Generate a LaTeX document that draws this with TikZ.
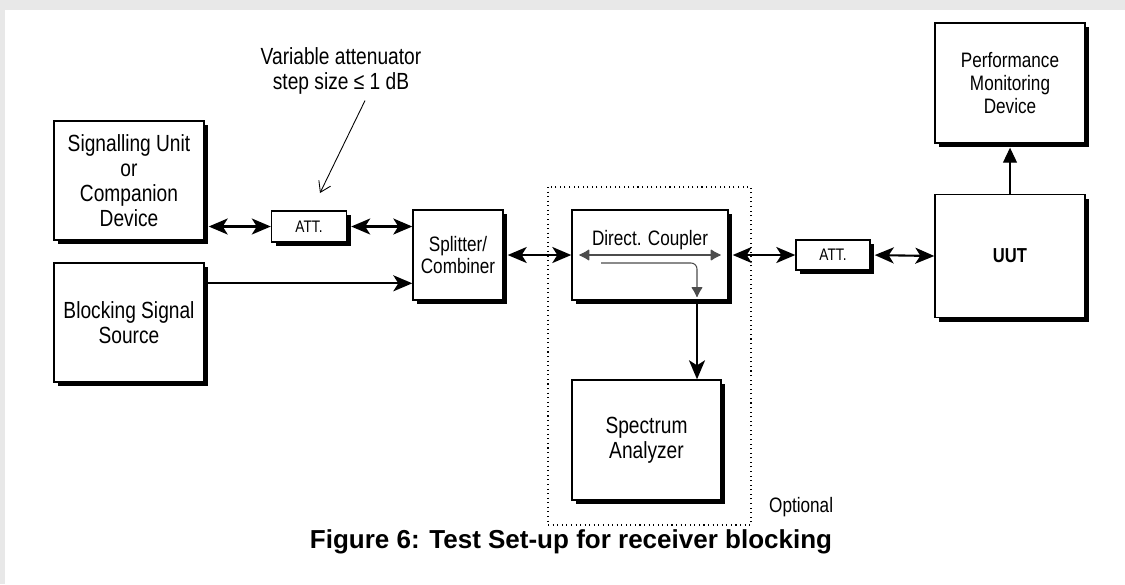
\documentclass[tikz,border=0pt]{standalone}
\usepackage{fontspec}
\setmainfont[FakeStretch=0.82]{Liberation Sans}
\newfontfamily\captionfont{Liberation Sans}
\usetikzlibrary{arrows.meta, shadows}

\begin{document}
\begin{tikzpicture}[
  maintip/.tip={Stealth[length=0.38cm, width=0.32cm, inset=0.1cm]},
  cpltip/.tip={Latex[length=0.22cm, width=0.24cm, round]},
  devbox/.style={draw, line width=0.8pt, fill=white, align=center, minimum width=3cm, minimum height=2.38cm,
    font=\fontsize{13.3}{14.2}\selectfont,
    drop shadow={shadow xshift=0.08cm, shadow yshift=-0.08cm, fill=black, opacity=1}},
  attbox/.style={devbox, minimum width=1.5cm, minimum height=0.62cm, font=\fontsize{9.5}{11}\selectfont},
  smalltxt/.style={font=\fontsize{11.9}{13}\selectfont},
  wire/.style={line width=1.2pt},
  dbl/.style={wire, maintip-maintip, shorten <=0.08cm},
  inner/.style={line width=0.6pt, draw=black!70},
]
  % Page background
  \useasboundingbox (0,0) rectangle (22.5,-11.68);
  \fill[black!9] (0,0) rectangle (22.5,-11.68);
  \fill[white] (0.1,-0.2) rectangle (22.5,-11.68);

  % Optional part
  \draw[dotted, line width=0.6pt] (10.96,-3.74) rectangle (15.02,-10.5);
  \node[smalltxt, anchor=west] (opt) at (15.26,-10.14) {Optional};

  % Sources
  \node[devbox] (sig) at (2.58,-3.61) {Signalling Unit\\or\\Companion\\Device};
  \node[devbox] (blk) at (2.58,-6.45) {Blocking Signal\\Source};
  \node[attbox] (att1) at (6.18,-4.53) {ATT.};
  \node[devbox, smalltxt, minimum width=1.8cm, minimum height=1.8cm] (spl) at (9.16,-5.1) {Splitter/\\Combiner};

  % Coupler and analyzer
  \node[devbox, minimum width=3.12cm, minimum height=1.8cm] (cpl) at (13.0,-5.1) {};
  \node[smalltxt, anchor=base] (cpltxt) at (13.0,-4.9) {Direct. Coupler};
  \node[devbox, minimum width=2.98cm, minimum height=2.4cm] (spa) at (12.93,-8.8) {Spectrum\\Analyzer};
  \coordinate (tap) at (13.94,-5.94);

  % Device under test
  \node[attbox, minimum width=1.48cm, minimum height=0.6cm] (att2) at (16.66,-5.1) {ATT.};
  \node[devbox, minimum height=2.46cm, font=\bfseries\fontsize{11.5}{13}\selectfont] (uut) at (20.2,-5.12) {UUT};
  \node[devbox, smalltxt, minimum height=2.4cm] (pmd) at (20.2,-1.66) {Performance\\Monitoring\\Device};

  % Note on the attenuator
  \node[font=\fontsize{13.3}{14.2}\selectfont, align=center] (note) at (6.82,-1.42) {Variable attenuator\\step size ≤ 1 dB};
  \coordinate (notetip) at (6.4,-3.86);
  \draw[line width=0.5pt, -{Straight Barb[length=0.2cm, width=0.26cm]}] ([xshift=0.48cm]note.south) -- (notetip);

  % Connections
  \coordinate (blkout) at ([yshift=-0.42cm]blk.north east);
  \draw[dbl] (sig.east |- att1.west) -- (att1.west);
  \draw[dbl] (att1.east) -- (att1.east -| spl.west);
  \draw[wire, -maintip] (blkout) -- (blkout -| spl.west);
  \draw[dbl] (spl.east) -- (cpl.west);
  \draw[dbl] (cpl.east) -- (att2.west);
  \draw[dbl] (att2.east) -- (uut.west);
  \draw[wire, -maintip] (tap |- cpl.south) -- (tap |- spa.north);
  \draw[line width=0.6pt, -{Triangle[length=0.3cm, width=0.28cm]}, shorten >=0.08cm] (uut.north) -- (pmd.south);

  % Inside the coupler
  \draw[inner, cpltip-cpltip] ([xshift=0.16cm]cpl.west) -- ([xshift=-0.16cm]cpl.east);
  \draw[inner, rounded corners=0.12cm, -cpltip] (12.02,-5.26) -- (13.94,-5.26) -- (tap);

  % Caption
  \node[font=\captionfont\bfseries\fontsize{14.8}{16}\selectfont] (cap) at (11.42,-10.84) {Figure 6: Test Set-up for receiver blocking};
\end{tikzpicture}
\end{document}
